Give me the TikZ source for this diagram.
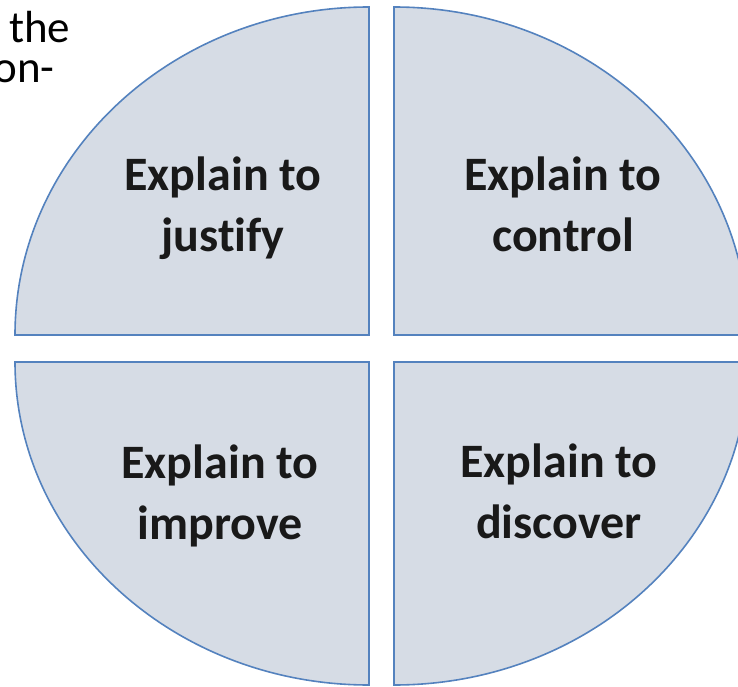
\documentclass[tikz,border=0pt]{standalone}
\usepackage{fontspec}
\setmainfont{Carlito}[Ligatures=NoCommon]
\definecolor{slicefill}{RGB}{214,220,229}
\definecolor{sliceline}{RGB}{84,130,190}

\begin{document}
\begin{tikzpicture}[x=1pt, y=1pt,
  quarter/.style={fill=slicefill, draw=sliceline, line width=1.6pt, line join=miter},
  slicetext/.style={font=\bfseries\fontsize{48}{61}\selectfont, align=center, inner sep=0pt, anchor=base, text=black!90}]
\useasboundingbox (0,0) rectangle (738,686);

% four quarters of the disc, pulled apart
\path[quarter] (369,351) -- ++(-354,0) arc[start angle=180, end angle=90, x radius=354, y radius=328] -- cycle;
\path[quarter] (394,351) -- ++(0,328) arc[start angle=90, end angle=0, x radius=354, y radius=328] -- cycle;
\path[quarter] (369,324) -- ++(-354,0) arc[start angle=180, end angle=270, x radius=354, y radius=323] -- cycle;
\path[quarter] (394,324) -- ++(354,0) arc[start angle=0, end angle=-90, x radius=354, y radius=323] -- cycle;

% base anchor sits on the second line
\node[slicetext] (JU) at (223,434) {Explain to\\justify};
\node[slicetext] (CO) at (563,434) {Explain to\\control};
\node[slicetext] (IM) at (220,147) {Explain to\\improve};
\node[slicetext] (DI) at (559,148) {Explain to\\discover};

% running text from the page behind
\node[font=\fontsize{45}{40}\selectfont, inner sep=0pt, anchor=base west] (THE) at (9,643) {the};
\node[font=\fontsize{45}{40}\selectfont, inner sep=0pt, anchor=base east] (ON) at (55,603) {on-};
\end{tikzpicture}
\end{document}
